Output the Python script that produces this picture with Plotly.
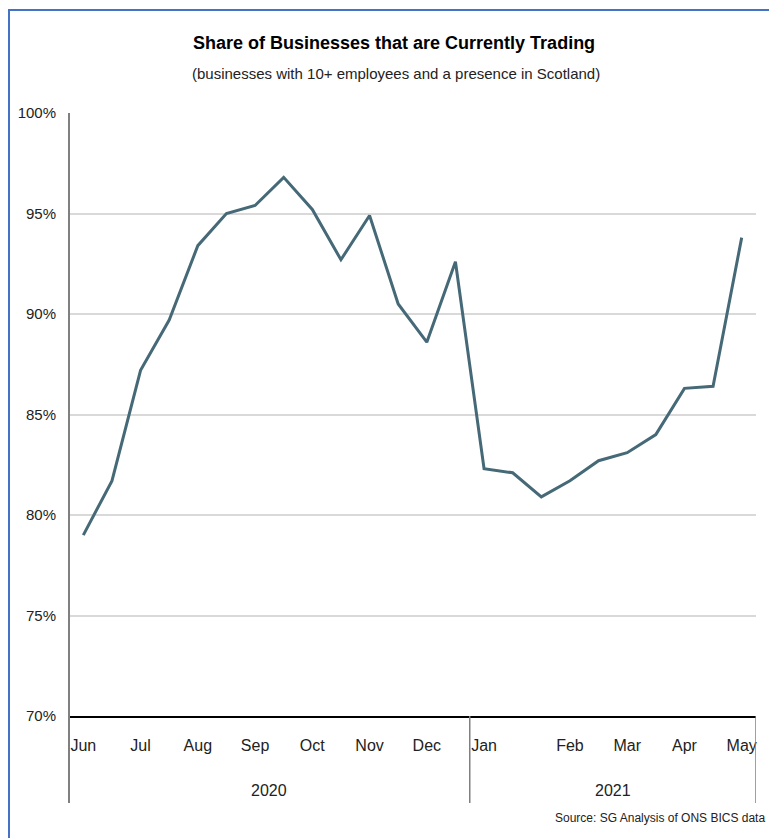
import plotly.graph_objects as go

# Fortnightly BICS waves, June 2020 to May 2021
wave_pos = [0, 1, 2, 3, 4, 5, 6, 7, 8, 9, 10, 11,
            12, 13, 14, 15, 16, 17, 18, 19, 20, 21, 22, 23]
share_trading = [79.0, 81.7, 87.2, 89.7, 93.4, 95.0, 95.4, 96.8, 95.2, 92.7, 94.9, 90.5,
                 88.6, 92.6, 82.3, 82.1, 80.9, 81.7, 82.7, 83.1, 84.0, 86.3, 86.4, 93.8]

month_pos = [0, 2, 4, 6, 8, 10, 12, 14, 17, 19, 21, 23]
month_labels = ["Jun", "Jul", "Aug", "Sep", "Oct", "Nov", "Dec",
                "Jan", "Feb", "Mar", "Apr", "May"]

year_labels = ["2020", "2021"]
year_centres = [6.5, 18.5]
year_breaks = [-0.5, 13.5, 23.5]

y_ticks = [70, 75, 80, 85, 90, 95, 100]
y_tick_labels = ["70%", "75%", "80%", "85%", "90%", "95%", "100%"]

FONT = "Arial Narrow, Liberation Sans Narrow, Liberation Sans, Arial, sans-serif"
LINE = "#456977"

fig = go.Figure()
fig.add_trace(go.Scatter(
    x=wave_pos, y=share_trading, mode="lines",
    line=dict(color=LINE, width=3),
    hoverinfo="y",
))

W, H = 769, 838
ml, mr, mt, mb = 69, 13, 113, 122
pw, ph = W - ml - mr, H - mt - mb


def px_x(p):
    return (p - ml) / pw


def px_y(p):
    return (H - mb - p) / ph


shapes = []
# outer blue frame
shapes.append(dict(type="rect", xref="paper", yref="paper",
                   x0=px_x(9), x1=px_x(790), y0=px_y(860), y1=px_y(10),
                   line=dict(color="#4472C4", width=2), fillcolor="rgba(0,0,0,0)",
                   layer="above"))
# left axis line, extended down through the category rows
shapes.append(dict(type="line", xref="paper", yref="paper",
                   x0=0, x1=0, y0=px_y(803), y1=1,
                   line=dict(color="#808080", width=2)))
# year group dividers
for b in year_breaks[1:]:
    shapes.append(dict(type="line", xref="x", yref="paper",
                       x0=b, x1=b, y0=px_y(803), y1=0,
                       line=dict(color="#808080", width=1.5)))

annotations = [
    dict(text="<b>Share of Businesses that are Currently Trading</b>",
         xref="paper", yref="paper", x=px_x(394), y=px_y(43),
         showarrow=False, font=dict(family=FONT, size=18, color="#000000"),
         xanchor="center", yanchor="middle"),
    dict(text="(businesses with 10+ employees and a presence in Scotland)",
         xref="paper", yref="paper", x=px_x(396), y=px_y(73),
         showarrow=False, font=dict(family=FONT, size=15, color="#222222"),
         xanchor="center", yanchor="middle"),
    dict(text="Source: SG Analysis of ONS BICS data",
         xref="paper", yref="paper", x=px_x(767), y=px_y(818),
         showarrow=False, font=dict(family=FONT, size=12, color="#222222"),
         xanchor="right", yanchor="middle"),
]
for lab, c in zip(year_labels, year_centres):
    annotations.append(dict(text=lab, xref="x", yref="paper", x=c, y=px_y(790),
                            showarrow=False, xanchor="center", yanchor="middle",
                            font=dict(family=FONT, size=16, color="#222222")))

fig.update_layout(
    width=W, height=H,
    margin=dict(l=ml, r=mr, t=mt, b=mb, autoexpand=False),
    paper_bgcolor="white", plot_bgcolor="white",
    showlegend=False,
    font=dict(family=FONT, size=16, color="#222222"),
    shapes=shapes,
    annotations=annotations,
    xaxis=dict(range=[-0.5, 23.5], tickvals=month_pos, ticktext=month_labels,
               showgrid=False, zeroline=False, showline=True, linecolor="#000000",
               linewidth=1.5, ticks="", ticklabelstandoff=14,
               tickfont=dict(family=FONT, size=16, color="#222222"), fixedrange=True),
    yaxis=dict(range=[70, 100], tickvals=y_ticks, ticktext=y_tick_labels,
               showgrid=True, gridcolor="#D9D9D9", gridwidth=1.5, zeroline=False,
               showline=False, ticks="", ticklabelstandoff=12,
               tickfont=dict(family=FONT, size=15, color="#222222"), fixedrange=True),
)

fig.write_html("out.html")
